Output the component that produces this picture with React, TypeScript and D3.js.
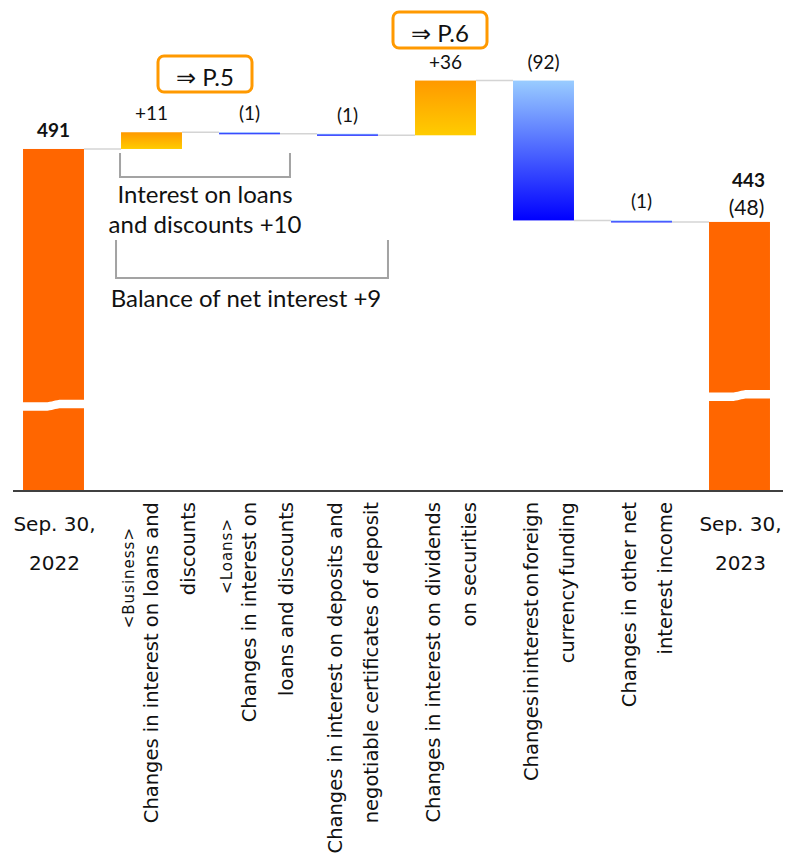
import React, { useEffect, useRef } from 'react';
import * as d3 from 'd3';

// categories of the waterfall, left to right
const categories = ['start', 'business', 'loans', 'deposits', 'securities', 'foreign', 'other', 'end'];

// axis labels (one entry per line)
const categoryLines: string[][] = [
  ['Sep. 30,', '2022'],
  ['<Business>', 'Changes in interest on loans and', 'discounts'],
  ['<Loans>', 'Changes in interest on', 'loans and discounts'],
  ['Changes in interest on deposits and', 'negotiable certificates of deposit'],
  ['Changes in interest on dividends', 'on securities'],
  ['Changes in interest on foreign', 'currency funding'],
  ['Changes in other net', 'interest income'],
  ['Sep. 30,', '2023'],
];

// first and last are totals, the rest are changes
const values = [491, 11, -1, -1, 36, -92, -1, 443];
const valueLabels = ['491', '+11', '(1)', '(1)', '+36', '(92)', '(1)', '443'];
const totalChangeLabel = '(48)';

// where the broken-axis wave sits on the two total bars
const breakValues = [323, 329.5];

const annotations = ['Interest on loans', 'and discounts +10', 'Balance of net interest +9'];
const pageRefs = ['⇒ P.5', '⇒ P.6'];

const WaterfallChart: React.FC = () => {
  const svgRef = useRef<SVGSVGElement | null>(null);

  useEffect(() => {
    if (!svgRef.current) return;

    const width = 785;
    const height = 866;
    const baseline = 491;
    const labelFont = "Lato, 'Open Sans', sans-serif";
    const axisFont = "'DejaVu Sans', Verdana, sans-serif";

    const svg = d3.select(svgRef.current)
      .attr('width', width)
      .attr('height', height)
      .attr('viewBox', `0 0 ${width} ${height}`);

    svg.selectAll('*').remove();

    const x = d3.scaleBand<string>()
      .domain(categories)
      .range([4.5, 788.5])
      .paddingInner(0.378)
      .paddingOuter(0.189);

    // axis is broken, so the baseline is not zero
    const y = d3.scaleLinear()
      .domain([266, 589])
      .range([baseline, 0]);

    const bw = x.bandwidth();

    // running totals
    const bars: { cat: string; lo: number; hi: number; kind: string; level: number }[] = [];
    let running = 0;
    values.forEach((v, i) => {
      if (i === 0 || i === values.length - 1) {
        running = v;
        bars.push({ cat: categories[i], lo: 266, hi: v, kind: 'total', level: v });
      } else {
        const prev = running;
        running += v;
        bars.push({
          cat: categories[i],
          lo: Math.min(prev, running),
          hi: Math.max(prev, running),
          kind: v >= 0 ? 'pos' : 'neg',
          level: running,
        });
      }
    });

    const defs = svg.append('defs');
    const pos = defs.append('linearGradient').attr('id', 'posGrad')
      .attr('x1', 0).attr('y1', 0).attr('x2', 0).attr('y2', 1);
    pos.append('stop').attr('offset', '0%').attr('stop-color', '#FF9900');
    pos.append('stop').attr('offset', '100%').attr('stop-color', '#FFCC00');
    const neg = defs.append('linearGradient').attr('id', 'negGrad')
      .attr('x1', 0).attr('y1', 0).attr('x2', 0).attr('y2', 1);
    neg.append('stop').attr('offset', '0%').attr('stop-color', '#99CCFF');
    neg.append('stop').attr('offset', '100%').attr('stop-color', '#0000FF');

    // connectors
    svg.append('g')
      .selectAll('line')
      .data(bars.slice(0, -1))
      .join('line')
      .attr('x1', d => (x(d.cat) as number) + bw)
      .attr('x2', (d, i) => x(bars[i + 1].cat) as number)
      .attr('y1', d => y(d.level))
      .attr('y2', d => y(d.level))
      .attr('stroke', '#d4d4d4')
      .attr('stroke-width', 1.5);

    // bars
    svg.append('g')
      .selectAll('rect')
      .data(bars)
      .join('rect')
      .attr('x', d => x(d.cat) as number)
      .attr('y', d => y(d.hi))
      .attr('width', bw)
      .attr('height', d => Math.max(2, y(d.lo) - y(d.hi)))
      .attr('fill', d => d.kind === 'total' ? '#FF6600' : d.kind === 'pos' ? 'url(#posGrad)' : 'url(#negGrad)');

    // axis break waves on total bars
    const totalBars = [bars[0], bars[bars.length - 1]];
    svg.append('g')
      .selectAll('path')
      .data(totalBars)
      .join('path')
      .attr('fill', '#ffffff')
      .attr('d', (d, i) => {
        const yb = y(breakValues[i]);
        const x0 = (x(d.cat) as number) - 1;
        const x1 = (x(d.cat) as number) + bw + 1;
        const xm = (x0 + x1) / 2;
        return `M${x0},${yb - 2} L${xm - 9},${yb - 2} C${xm},${yb - 2} ${xm},${yb - 4.5} ${xm + 9},${yb - 4.5} L${x1},${yb - 4.5}`
          + ` L${x1},${yb + 4} L${xm + 9},${yb + 4} C${xm},${yb + 4} ${xm},${yb + 6.5} ${xm - 9},${yb + 6.5} L${x0},${yb + 6.5} Z`;
      });

    // baseline axis
    svg.append('line')
      .attr('x1', 13).attr('x2', 783)
      .attr('y1', baseline).attr('y2', baseline)
      .attr('stroke', '#404040')
      .attr('stroke-width', 2);

    // value labels
    svg.append('g')
      .selectAll('text')
      .data(bars)
      .join('text')
      .attr('x', (d, i) => (x(d.cat) as number) + bw / 2 + (i === bars.length - 1 ? 9 : 0))
      .attr('y', (d, i) => i === bars.length - 1 ? y(d.hi) - 35 : y(d.hi) - 12)
      .attr('text-anchor', 'middle')
      .attr('font-family', labelFont)
      .attr('font-size', 19)
      .attr('font-weight', d => d.kind === 'total' ? 'bold' : 'normal')
      .attr('fill', '#111')
      .text((d, i) => valueLabels[i]);

    const last = bars[bars.length - 1];
    svg.append('text')
      .attr('x', (x(last.cat) as number) + bw / 2 + 7)
      .attr('y', y(last.hi) - 7)
      .attr('text-anchor', 'middle')
      .attr('font-family', labelFont)
      .attr('font-size', 21)
      .attr('fill', '#111')
      .text(totalChangeLabel);

    // category labels
    const catG = svg.append('g').attr('fill', '#111');
    categories.forEach((cat, i) => {
      const lines = categoryLines[i];
      const cx = (x(cat) as number) + bw / 2;
      if (i === 0 || i === categories.length - 1) {
        lines.forEach((line, j) => {
          catG.append('text')
            .attr('x', cx + 1)
            .attr('y', 531 + j * 39)
            .attr('text-anchor', 'middle')
            .attr('font-family', axisFont)
            .attr('font-size', 20)
            .text(line);
        });
        return;
      }
      const hasPrefix = lines[0].startsWith('<');
      lines.forEach((line, j) => {
        let bx: number;
        let endY = 502;
        let size = 19.5;
        let spacing = 0;
        if (hasPrefix) {
          if (j === 0) {
            bx = cx - 18;
            endY = i === 1 ? 527 : 518;
            size = 15;
            spacing = 1;
          } else {
            bx = cx + 6 + (j - 1) * 37;
          }
        } else {
          bx = cx - 6 + j * 36;
        }
        catG.append('text')
          .attr('transform', `translate(${bx},${endY}) rotate(-90)`)
          .attr('text-anchor', 'end')
          .attr('font-family', axisFont)
          .attr('font-size', size)
          .attr('letter-spacing', spacing)
          .attr('word-spacing', cat === 'foreign' ? -4 : 0)
          .text(line);
      });
    });

    // brackets
    const bracket = svg.append('g')
      .attr('fill', 'none')
      .attr('stroke', '#a3a3a3')
      .attr('stroke-width', 2);
    bracket.append('path')
      .attr('d', `M${(x('business') as number) - 1},153 V177 H${(x('loans') as number) + bw + 10} V153`);
    bracket.append('path')
      .attr('d', `M${(x('business') as number) - 5},240 V278 H${(x('deposits') as number) + bw + 10} V240`);

    const notes = svg.append('g')
      .attr('font-family', labelFont)
      .attr('font-size', 24)
      .attr('fill', '#111')
      .attr('text-anchor', 'middle');
    notes.append('text').attr('x', 205).attr('y', 203).text(annotations[0]);
    notes.append('text').attr('x', 205).attr('y', 233).text(annotations[1]);
    notes.append('text').attr('x', 246).attr('y', 307).text(annotations[2]);

    // page reference boxes
    const boxes = [
      { x: 158, y: 56, label: pageRefs[0] },
      { x: 393, y: 12, label: pageRefs[1] },
    ];
    const boxG = svg.append('g');
    boxes.forEach(b => {
      boxG.append('rect')
        .attr('x', b.x).attr('y', b.y)
        .attr('width', 94).attr('height', 36)
        .attr('rx', 6)
        .attr('fill', '#fff')
        .attr('stroke', '#FF9900')
        .attr('stroke-width', 3);
      boxG.append('text')
        .attr('x', b.x + 47).attr('y', b.y + 30)
        .attr('text-anchor', 'middle')
        .attr('font-family', labelFont)
        .attr('font-size', 24)
        .attr('fill', '#111')
        .text(b.label);
    });
  }, []);

  return (
    <div style={{ position: 'absolute', left: 0, top: 0 }}>
      <svg ref={svgRef}></svg>
    </div>
  );
};

export default function App() {
  return <WaterfallChart />;
}
